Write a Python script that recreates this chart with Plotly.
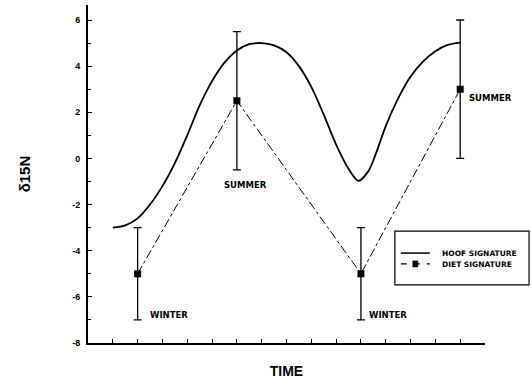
import plotly.graph_objects as go

# Hoof signature curve (time units, delta 15N)
hoof_t = [1.0, 1.5, 2.0, 2.5, 3.0, 3.5, 4.0, 4.5, 5.0, 5.5, 6.0, 6.5, 7.0, 7.5, 8.0, 8.5, 9.0, 9.5,
          10.0, 10.5, 10.9, 11.3, 11.6, 12.0, 12.5, 13.0, 13.5, 14.0, 14.5, 15.0]
hoof_v = [-3.0, -2.9, -2.6, -2.0, -1.2, -0.2, 1.0, 2.3, 3.35, 4.15, 4.68, 4.95, 5.0, 4.9, 4.6, 4.0, 3.1, 1.9,
          0.6, -0.45, -0.97, -0.55, 0.2, 1.4, 2.6, 3.55, 4.2, 4.65, 4.92, 5.02]

# Diet signature points
diet_t = [2, 6, 11, 15]
diet_v = [-5.0, 2.5, -5.0, 3.0]
diet_err_plus = [2.0, 3.0, 2.0, 3.0]
diet_err_minus = [2.0, 3.0, 2.0, 3.0]

season_labels = ["WINTER", "SUMMER", "WINTER", "SUMMER"]
label_t = [2.42, 5.4, 11.25, 15.28]
label_v = [-6.78, -1.13, -6.78, 2.6]

legend_names = ["HOOF SIGNATURE", "DIET SIGNATURE"]

y_ticks = [6, 4, 2, 0, -2, -4, -6, -8]
y_minor = [5, 3, 1, -1, -3, -5, -7]
x_ticks = list(range(1, 17))

LABEL_FONT = dict(family="DejaVu Sans", size=8.5, color="black", weight="bold")

fig = go.Figure()
fig.add_trace(go.Scatter(
    x=hoof_t, y=hoof_v, mode="lines", name=legend_names[0], showlegend=False,
    line=dict(color="black", width=1.8, shape="spline", smoothing=0.9),
))
fig.add_trace(go.Scatter(
    x=diet_t, y=diet_v, mode="lines+markers", name=legend_names[1], showlegend=False,
    line=dict(color="black", width=1, dash="dashdot"),
    marker=dict(symbol="square", size=7, color="black"),
    error_y=dict(type="data", symmetric=False, array=diet_err_plus, arrayminus=diet_err_minus,
                 color="black", thickness=1.3, width=4),
))

for t, v, s in zip(label_t, label_v, season_labels):
    fig.add_annotation(x=t, y=v, text=s, showarrow=False,
                       xanchor="left", yanchor="middle", font=LABEL_FONT)

# Legend box (drawn in paper coordinates)
fig.add_shape(type="rect", xref="paper", yref="paper", x0=0.773, x1=1.111, y0=0.172, y1=0.331,
              line=dict(color="black", width=1.2), fillcolor="white", layer="above")
fig.add_shape(type="line", xref="paper", yref="paper", x0=0.788, x1=0.861, y0=0.266, y1=0.266,
              line=dict(color="black", width=1.5), layer="above")
fig.add_shape(type="line", xref="paper", yref="paper", x0=0.788, x1=0.861, y0=0.234, y1=0.234,
              line=dict(color="black", width=1.2, dash="6px,7px"), layer="above")
fig.add_shape(type="rect", xref="paper", yref="paper", x0=0.818, x1=0.831, y0=0.225, y1=0.243,
              line=dict(color="black", width=0.5), fillcolor="black", layer="above")
for yp, name in zip([0.266, 0.231], legend_names):
    fig.add_annotation(x=0.887, y=yp, xref="paper", yref="paper", text=name, showarrow=False,
                       xanchor="left", yanchor="middle",
                       font=dict(family="DejaVu Sans", size=7.5, color="black", weight="bold"))

fig.update_layout(
    width=531, height=383,
    margin=dict(l=88, r=46, t=5, b=40),
    paper_bgcolor="white", plot_bgcolor="white",
    showlegend=False,
    font=dict(family="Liberation Sans", color="black"),
)
fig.update_xaxes(
    range=[0, 16], showgrid=False, zeroline=False,
    showline=True, linecolor="black", linewidth=1.5,
    tickmode="array", tickvals=x_ticks, ticktext=[""] * len(x_ticks),
    ticks="inside", ticklen=4, tickcolor="black", tickwidth=1,
    title=dict(text="<b>TIME</b>", font=dict(size=14, family="Liberation Sans"), standoff=20),
)
fig.update_yaxes(
    range=[-8, 6.65], showgrid=False, zeroline=False,
    showline=True, linecolor="black", linewidth=1.8,
    tickmode="array", tickvals=y_ticks, ticktext=["<b>%d</b>" % v for v in y_ticks],
    ticks="inside", ticklen=4, tickcolor="black", tickwidth=1,
    ticklabelstandoff=4,
    tickfont=dict(size=9, family="Liberation Sans"),
    minor=dict(tickvals=y_minor, ticks="inside", ticklen=3, tickcolor="black"),
    title=dict(text="<b>δ15N</b>", font=dict(size=15, family="Liberation Sans"), standoff=38),
)

fig.write_html("out.html")
